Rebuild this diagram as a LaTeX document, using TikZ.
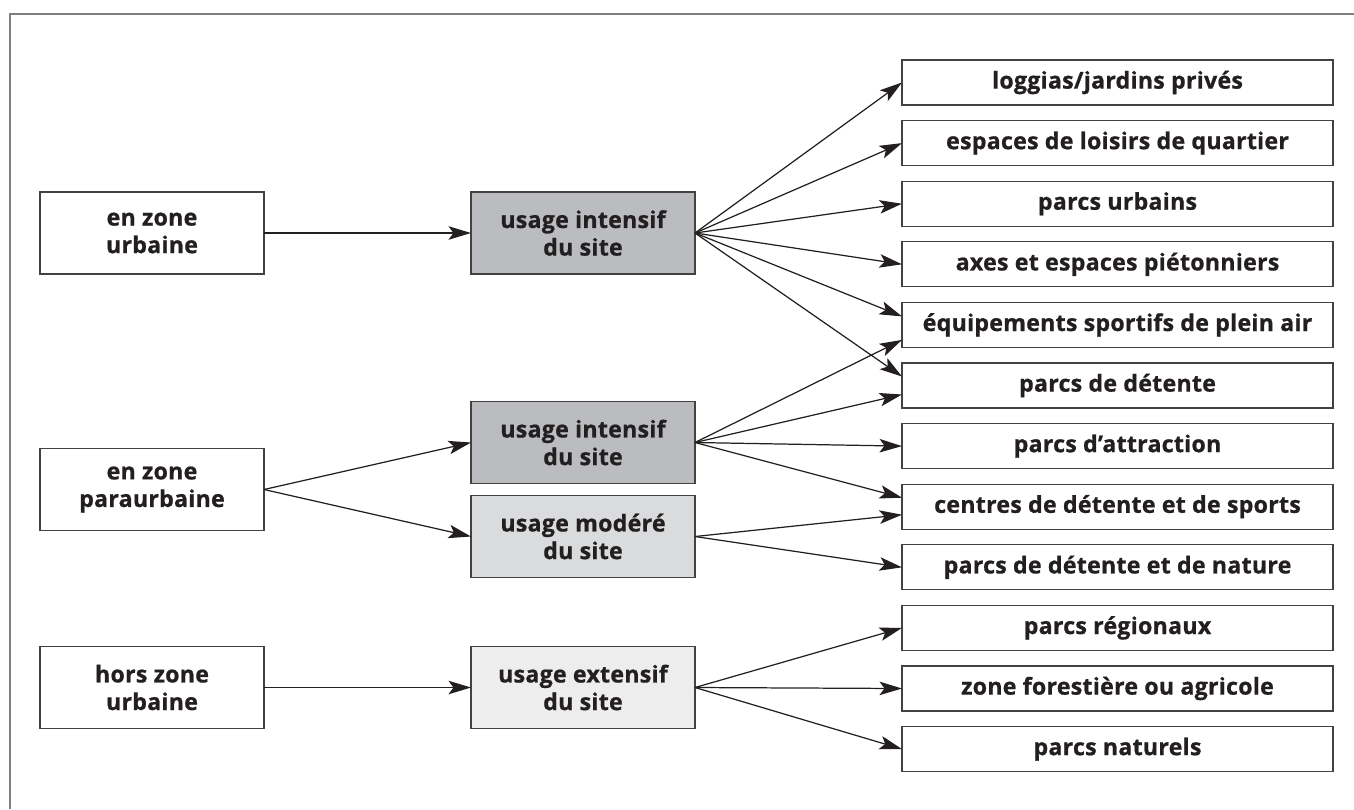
\documentclass[tikz,border=0pt]{standalone}
\usepackage{fontspec}
\setmainfont[LetterSpace=1,BoldFeatures={FakeBold=0.8}]{Open Sans}
\usepackage{tikz}
\usetikzlibrary{arrows.meta,positioning}
\definecolor{ink}{HTML}{231F20}
\definecolor{intense}{HTML}{BBBCBF}
\definecolor{moderate}{HTML}{DADBDD}
\definecolor{extense}{HTML}{EDEDEE}
\tikzset{
  box/.style={draw=ink!85, line width=0.6pt, text=ink, align=center,
    font=\bfseries\fontsize{13.2}{15.7}\selectfont, inner sep=0pt, outer sep=0pt},
  zone/.style={box, minimum width=4.48cm, minimum height=1.64cm},
  usage/.style={zone, fill=#1},
  use/.style={box, minimum width=8.62cm, minimum height=0.9cm},
  link/.style={draw=ink, line width=0.7pt, -{Stealth[length=0.45cm,width=0.27cm,inset=0.1cm]}}
}

\begin{document}
\begin{tikzpicture}[node distance=0.312cm]
\useasboundingbox (0,0) rectangle (27.08,-16.18);
\draw[gray, line width=0.9pt] (0.2,-16.18) |- (27.08,-0.28);
% nodes
 \node[zone] (urb) at (3.04,-4.66) {en zone\\urbaine};
 \node[zone] (para) at (3.04,-9.79) {en zone\\paraurbaine};
 \node[zone] (hors) at (3.04,-13.75) {hors zone\\urbaine};
 \node[usage=intense, right=4.14cm of urb] (int1) {usage intensif\\du site};
 \node[usage=intense, above right=0.12cm and 4.14cm of para.east] (int2) {usage intensif\\du site};
 \node[usage=moderate, below right=0.12cm and 4.14cm of para.east] (mod) {usage modéré\\du site};
 \node[usage=extense, right=4.14cm of hors] (ext) {usage extensif\\du site};

 \node[use] (loggia) at (22.35,-1.65) {loggias/jardins privés};
 \node[use, below=of loggia] (quart) {espaces de loisirs de quartier};
 \node[use, below=of quart] (urbparc) {parcs urbains};
 \node[use, below=of urbparc] (axes) {axes et espaces piétonniers};
 \node[use, below=of axes] (equip) {équipements sportifs de plein air};
 \node[use, below=of equip] (detente) {parcs de détente};
 \node[use, below=of detente] (attract) {parcs d’attraction};
 \node[use, below=of attract] (centre) {centres de détente et de sports};
 \node[use, below=of centre] (nature) {parcs de détente et de nature};
 \node[use, below=of nature] (region) {parcs régionaux};
 \node[use, below=of region] (forest) {zone forestière ou agricole};
 \node[use, below=of forest] (natpark) {parcs naturels};

% edges
 \draw[link] (urb) -- (int1);
 \draw[link] (para.east) -- (int2.west);
 \draw[link] (para.east) -- (mod.west);
 \draw[link] (hors) -- (ext);

 \foreach \t in {loggia,quart,urbparc,axes}
   \draw[link] (int1.east) -- (\t.west);
 \draw[link] (int1.east) -- ([yshift=0.17cm]equip.west);
 \draw[link] (int1.east) -- ([yshift=0.18cm]detente.west);

 \draw[link] (int2.east) -- ([yshift=-0.3cm]equip.west);
 \draw[link] (int2.east) -- ([yshift=-0.18cm]detente.west);
 \draw[link] (int2.east) -- (attract.west);
 \draw[link] (int2.east) -- ([yshift=0.18cm]centre.west);

 \draw[link] (mod.east) -- ([yshift=-0.16cm]centre.west);
 \draw[link] (mod.east) -- (nature.west);

 \foreach \t in {region,forest,natpark}
   \draw[link] (ext.east) -- (\t.west);
\end{tikzpicture}
\end{document}
